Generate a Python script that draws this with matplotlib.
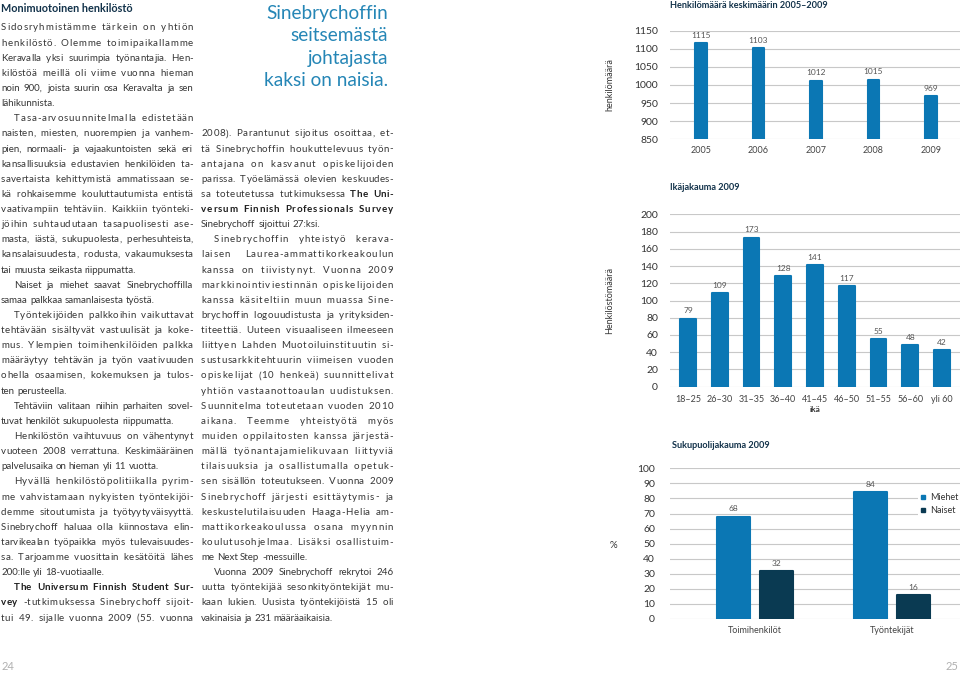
import matplotlib
matplotlib.use('Agg')
import matplotlib.pyplot as plt
from matplotlib.lines import Line2D
from matplotlib import font_manager, ft2font

plt.rcParams['font.family'] = ['Lato', 'DejaVu Sans']

# --- chart data ---
years = ['2005', '2006', '2007', '2008', '2009']
staff = [1115, 1103, 1012, 1015, 969]

age_groups = ['18–25', '26–30', '31–35', '36–40', '41–45', '46–50', '51–55', '56–60', 'yli 60']
age_counts = [79, 109, 173, 128, 141, 117, 55, 48, 42]

gender_groups = ['Toimihenkilöt', 'Työntekijät']
men_pct = [68, 84]
women_pct = [32, 16]

# --- page text (lines as set in the layout, *word* = bold) ---
left_paras = [
    (False, ["Sidosryhmistämme tärkein on yhtiön",
             "henkilöstö. Olemme toimipaikallamme",
             "Keravalla yksi suurimpia työnantajia. Hen-",
             "kilöstöä meillä oli viime vuonna hieman",
             "noin 900, joista suurin osa Keravalta ja sen",
             "lähikunnista."], False),
    (True, ["Tasa-arvosuunnitelmalla edistetään",
            "naisten, miesten, nuorempien ja vanhem-",
            "pien, normaali- ja vajaakuntoisten sekä eri",
            "kansallisuuksia edustavien henkilöiden ta-",
            "savertaista kehittymistä ammatissaan se-",
            "kä rohkaisemme kouluttautumista entistä",
            "vaativampiin tehtäviin. Kaikkiin työnteki-",
            "jöihin suhtaudutaan tasapuolisesti ase-",
            "masta, iästä, sukupuolesta, perhesuhteista,",
            "kansalaisuudesta, rodusta, vakaumuksesta",
            "tai muusta seikasta riippumatta."], False),
    (True, ["Naiset ja miehet saavat Sinebrychoffilla",
            "samaa palkkaa samanlaisesta työstä."], False),
    (True, ["Työntekijöiden palkkoihin vaikuttavat",
            "tehtävään sisältyvät vastuulisät ja koke-",
            "mus. Ylempien toimihenkilöiden palkka",
            "määräytyy tehtävän ja työn vaativuuden",
            "ohella osaamisen, kokemuksen ja tulos-",
            "ten perusteella."], False),
    (True, ["Tehtäviin valitaan niihin parhaiten sovel-",
            "tuvat henkilöt sukupuolesta riippumatta."], False),
    (True, ["Henkilöstön vaihtuvuus on vähentynyt",
            "vuoteen 2008 verrattuna. Keskimääräinen",
            "palvelusaika on hieman yli 11 vuotta."], False),
    (True, ["Hyvällä henkilöstöpolitiikalla pyrim-",
            "me vahvistamaan nykyisten työntekijöi-",
            "demme sitoutumista ja työtyytyväisyyttä.",
            "Sinebrychoff haluaa olla kiinnostava elin-",
            "tarvikealan työpaikka myös tulevaisuudes-",
            "sa. Tarjoamme vuosittain kesätöitä lähes",
            "200:lle yli 18-vuotiaalle."], False),
    (True, ["*The* *Universum* *Finnish* *Student* *Sur-*",
            "*vey* -tutkimuksessa Sinebrychoff sijoit-",
            "tui 49. sijalle vuonna 2009 (55. vuonna"], True),
]

right_paras = [
    (False, ["2008). Parantunut sijoitus osoittaa, et-",
             "tä Sinebrychoffin houkuttelevuus työn-",
             "antajana on kasvanut opiskelijoiden",
             "parissa. Työelämässä olevien keskuudes-",
             "sa toteutetussa tutkimuksessa *The* *Uni-*",
             "*versum* *Finnish* *Professionals* *Survey*",
             "Sinebrychoff sijoittui 27:ksi."], False),
    (True, ["Sinebrychoffin yhteistyö kerava-",
            "laisen Laurea-ammattikorkeakoulun",
            "kanssa on tiivistynyt. Vuonna 2009",
            "markkinointiviestinnän opiskelijoiden",
            "kanssa käsiteltiin muun muassa Sine-",
            "brychoffin logouudistusta ja yrityksiden-",
            "titeettiä. Uuteen visuaaliseen ilmeeseen",
            "liittyen Lahden Muotoiluinstituutin si-",
            "sustusarkkitehtuurin viimeisen vuoden",
            "opiskelijat (10 henkeä) suunnittelivat",
            "yhtiön vastaanottoaulan uudistuksen.",
            "Suunnitelma toteutetaan vuoden 2010",
            "aikana. Teemme yhteistyötä myös",
            "muiden oppilaitosten kanssa järjestä-",
            "mällä työnantajamielikuvaan liittyviä",
            "tilaisuuksia ja osallistumalla opetuk-",
            "sen sisällön toteutukseen. Vuonna 2009",
            "Sinebrychoff järjesti esittäytymis- ja",
            "keskustelutilaisuuden Haaga-Helia am-",
            "mattikorkeakoulussa osana myynnin",
            "koulutusohjelmaa. Lisäksi osallistuim-",
            "me Next Step -messuille."], False),
    (True, ["Vuonna 2009 Sinebrychoff rekrytoi 246",
            "uutta työntekijää sesonkityöntekijät mu-",
            "kaan lukien. Uusista työntekijöistä 15 oli",
            "vakinaisia ja 231 määräaikaisia."], False),
]

quote_lines = ["Sinebrychoffin", "seitsemästä", "johtajasta", "kaksi on naisia."]

W, H = 960, 674
BLUE = '#0b77b4'
NAVY = '#0a3a52'
TEXT = '#363636'
HEAD = '#12324a'
GRID = '#c8c8c8'

fig = plt.figure(figsize=(W / 100, H / 100), dpi=100)


def text_px(x, y, s, **kw):
    return fig.text(x / W, 1 - y / H, s, **kw)


BODY = 7.0
LINE0, LINE_H = 27.0, 15.13
INDENT = 13
GMAX = 5.5      # widest word gap before letters get spaced out
LSMAX = 0.9     # max extra letter spacing, px

# glyph advances, so justified lines can be letter-spaced like the print
fonts = {}
for bold in (False, True):
    path = font_manager.findfont(font_manager.FontProperties(
        family='Lato', weight='bold' if bold else 'normal'))
    f = ft2font.FT2Font(path)
    f.set_size(BODY, 100)
    fonts[bold] = f
adv_cache = {}


def adv(c, bold):
    if (c, bold) not in adv_cache:
        g = fonts[bold].load_char(ord(c))
        adv_cache[(c, bold)] = g.linearHoriAdvance / 65536
    return adv_cache[(c, bold)]


def set_column(paras, x0, x1, row):
    for indent, lines, open_end in paras:
        for k, line in enumerate(lines):
            left = x0 + (INDENT if indent and k == 0 else 0)
            words = [(w.strip('*'), w.startswith('*')) for w in line.split(' ')]
            widths = [sum(adv(c, b) for c in w) for w, b in words]
            n_gaps = len(words) - 1
            n_lgaps = sum(len(w) - 1 for w, b in words)
            last = k == len(lines) - 1 and not open_end
            ls = 0.0
            if last or n_gaps == 0:
                gap = adv(' ', False)
            else:
                extra = x1 - left - sum(widths)
                gap = extra / n_gaps
                if gap > GMAX:
                    ls = min(LSMAX, (extra - n_gaps * GMAX) / n_lgaps)
                    gap = (extra - ls * n_lgaps) / n_gaps
            x = left
            yb = LINE0 + LINE_H * row + 3.5
            for (w, b), ww in zip(words, widths):
                kw = dict(fontsize=BODY, va='baseline',
                          fontweight='bold' if b else 'normal',
                          color='#1e1e1e' if b else TEXT)
                if ls > 0:
                    # spaced-out line: place letter by letter
                    for c in w:
                        text_px(x, yb, c, **kw)
                        x += adv(c, b) + ls
                    x += gap - ls
                else:
                    text_px(x, yb, w, **kw)
                    x += ww + gap
            row += 1


text_px(1, 8, 'Monimuotoinen henkilöstö', fontsize=7.8, fontweight='bold',
        color=HEAD, va='center')
set_column(left_paras, 1, 193, 0)
set_column(right_paras, 201, 393, 7)

for i, s in enumerate(quote_lines):
    text_px(388, 13 + 22.4 * i + 6, s, fontsize=13.7,
            color='#2586b6', ha='right', va='baseline')

text_px(2, 667, '24', fontsize=8, color='#b0b0b0', va='center')
text_px(958, 667, '25', fontsize=8, color='#b0b0b0', va='center', ha='right')


def add_ax(left, top, right, bottom):
    return fig.add_axes([left / W, 1 - bottom / H, (right - left) / W, (bottom - top) / H])


def style(ax, ylim, yticks, ypad, xpad):
    ax.set_ylim(*ylim)
    ax.set_yticks(yticks)
    for s in ax.spines.values():
        s.set_visible(False)
    ax.yaxis.grid(True, color=GRID, linewidth=0.8)
    ax.set_axisbelow(True)
    ax.tick_params(axis='y', length=0, pad=ypad, labelsize=7.5, labelcolor='#333333')
    ax.tick_params(axis='x', length=0, pad=xpad, labelsize=6.5, labelcolor='#444444')
    ax.patch.set_alpha(0)


def value_labels(ax, xs, vals):
    for x, v in zip(xs, vals):
        ax.annotate(str(v), (x, v), xytext=(0, 3), textcoords='offset points',
                    ha='center', va='bottom', fontsize=6, color='#555555')


EDGE = 1.5  # rounded corners via round-joined edge
EDGE_PX = EDGE * 100 / 72

# chart 1
ax1 = add_ax(670, 30.7, 960, 139.3)
x1 = list(range(len(years)))
ax1.bar(x1, staff, width=(14 - EDGE_PX) / 57.5, color=BLUE,
        edgecolor=BLUE, linewidth=EDGE, joinstyle='round')
ax1.set_xlim(-31 / 57.5, 259 / 57.5)
ax1.set_xticks(x1, years)
style(ax1, (850, 1150), range(850, 1151, 50), 8.6, 5)
value_labels(ax1, x1, staff)
text_px(670, 5, 'Henkilömäärä keskimäärin 2005–2009', fontsize=6.6,
        fontweight='bold', color=HEAD, va='center')
text_px(610, 85, 'henkilömäärä', fontsize=6.5, rotation=90, ha='center',
        va='center', color='#333333')

# chart 2
ax2 = add_ax(670, 214.3, 960, 386.7)
x2 = list(range(len(age_groups)))
ax2.bar(x2, age_counts, width=(18 - EDGE_PX) / 31.75, color=BLUE,
        edgecolor=BLUE, linewidth=EDGE, joinstyle='round')
ax2.set_xlim(-18 / 31.75, 272 / 31.75)
ax2.set_xticks(x2, age_groups)
style(ax2, (0, 200), range(0, 201, 20), 8.6, 6)
value_labels(ax2, x2, age_counts)
text_px(670, 187, 'Ikäjakauma 2009', fontsize=6.6, fontweight='bold',
        color=HEAD, va='center')
text_px(815, 409.5, 'ikä', fontsize=6, fontweight='bold', ha='center',
        va='center', color='#333333')
text_px(610, 300, 'Henkilöstömäärä', fontsize=6.5, rotation=90, ha='center',
        va='center', color='#333333')

# chart 3
ax3 = add_ax(670, 468.3, 960, 619)
x3 = list(range(len(gender_groups)))
off = 21.5 / 137
bw = (35.7 - EDGE_PX) / 137
xm = [x - off for x in x3]
xw = [x + off for x in x3]
ax3.bar(xm, men_pct, width=bw, color=BLUE, edgecolor=BLUE, linewidth=EDGE,
        joinstyle='round', label='Miehet')
ax3.bar(xw, women_pct, width=bw, color=NAVY, edgecolor=NAVY, linewidth=EDGE,
        joinstyle='round', label='Naiset')
ax3.set_xlim(-85 / 137, 205 / 137)
ax3.set_xticks(x3, gender_groups)
style(ax3, (0, 100), range(0, 101, 10), 10.8, 4.7)
value_labels(ax3, xm, men_pct)
value_labels(ax3, xw, women_pct)
text_px(672, 446, 'Sukupuolijakauma 2009', fontsize=6.6, fontweight='bold',
        color=HEAD, va='center')
text_px(613, 546, '%', fontsize=7, ha='center', va='center', color='#333333')

handles = [Line2D([], [], marker='s', linestyle='none', markersize=3, color=BLUE),
           Line2D([], [], marker='s', linestyle='none', markersize=3, color=NAVY)]
leg = ax3.legend(handles, ['Miehet', 'Naiset'], loc='upper left',
                 bbox_to_anchor=(918 / W, 1 - 491 / H), bbox_transform=fig.transFigure,
                 frameon=True, facecolor='white', edgecolor='none', framealpha=1,
                 fancybox=False, borderpad=0.25, handlelength=0.6, handletextpad=0.5,
                 labelspacing=0.45, fontsize=6.5, borderaxespad=0)
for t in leg.get_texts():
    t.set_color('#333333')

fig.savefig('out.png', dpi=100)
